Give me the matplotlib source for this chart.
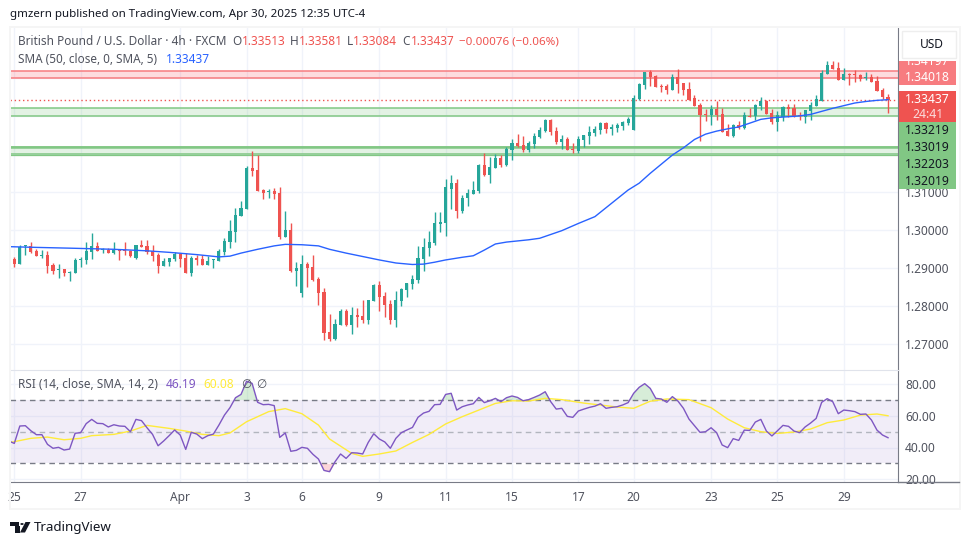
import matplotlib
matplotlib.use('Agg')
import matplotlib.pyplot as plt
from matplotlib.lines import Line2D
from matplotlib.patches import Rectangle, Circle, Polygon

plt.rcParams['font.family'] = ['Noto Sans', 'DejaVu Sans']

# GBP/USD 4h candles
opens = [1.2925,1.2911,1.2959,1.2959,1.2946,1.2932,1.2935,1.2909,1.2896,1.2898,
         1.2888,1.2888,1.2922,1.2922,1.2943,1.2959,1.2948,1.2948,1.2940,1.2948,
         1.2946,1.2946,1.2927,1.2961,1.2959,1.2946,1.2935,1.2906,1.2917,1.2925,
         1.2938,1.2927,1.2888,1.2927,1.2925,1.2909,1.2921,1.2919,1.2943,1.2969,
         1.2995,1.3038,1.3056,1.3164,1.3159,1.3106,1.3101,1.3103,1.3098,1.2982,
         1.3001,1.2893,1.2835,1.2911,1.2903,1.2872,1.2838,1.2732,1.2714,1.2751,
         1.2787,1.2751,1.2777,1.2774,1.2764,1.2814,1.2856,1.2827,1.2806,1.2764,
         1.2814,1.2843,1.2859,1.2869,1.2925,1.2954,1.2967,1.3017,1.3019,1.3109,
         1.3125,1.3051,1.3085,1.3096,1.3103,1.3172,1.3145,1.3164,1.3190,1.3172,
         1.3211,1.3229,1.3224,1.3211,1.3227,1.3245,1.3261,1.3290,1.3261,1.3232,
         1.3240,1.3214,1.3209,1.3238,1.3248,1.3256,1.3264,1.3282,1.3267,1.3269,
         1.3274,1.3282,1.3264,1.3345,1.3382,1.3417,1.3406,1.3380,1.3380,1.3369,
         1.3403,1.3388,1.3372,1.3348,1.3330,1.3306,1.3303,1.3319,1.3306,1.3261,
         1.3248,1.3277,1.3269,1.3301,1.3301,1.3327,1.3340,1.3308,1.3285,1.3298,
         1.3324,1.3322,1.3303,1.3298,1.3314,1.3327,1.3340,1.3411,1.3435,1.3427,
         1.3395,1.3411,1.3411,1.3409,1.3401,1.3403,1.3393,1.3369,1.33513]
highs = [1.2930,1.2961,1.2961,1.2969,1.2951,1.2948,1.2946,1.2914,1.2911,1.2898,
         1.2893,1.2927,1.2930,1.2969,1.2993,1.2969,1.2954,1.2954,1.2969,1.2951,
         1.2969,1.2948,1.2961,1.2975,1.2975,1.2961,1.2940,1.2927,1.2927,1.2943,
         1.2938,1.2940,1.2932,1.2935,1.2935,1.2932,1.2925,1.2951,1.2980,1.3027,
         1.3059,1.3077,1.3169,1.3209,1.3198,1.3109,1.3109,1.3111,1.3114,1.3051,
         1.3019,1.2917,1.2935,1.2917,1.2935,1.2877,1.2848,1.2780,1.2767,1.2793,
         1.2793,1.2798,1.2795,1.2817,1.2817,1.2859,1.2867,1.2838,1.2817,1.2840,
         1.2848,1.2861,1.2882,1.2959,1.2980,1.2998,1.3048,1.3048,1.3135,1.3145,
         1.3135,1.3093,1.3109,1.3130,1.3174,1.3203,1.3193,1.3201,1.3198,1.3219,
         1.3240,1.3253,1.3248,1.3234,1.3256,1.3272,1.3293,1.3293,1.3272,1.3251,
         1.3245,1.3229,1.3248,1.3251,1.3274,1.3274,1.3285,1.3285,1.3280,1.3282,
         1.3287,1.3298,1.3356,1.3388,1.3417,1.3422,1.3409,1.3385,1.3385,1.3411,
         1.3424,1.3388,1.3390,1.3356,1.3335,1.3319,1.3330,1.3340,1.3322,1.3280,
         1.3280,1.3287,1.3311,1.3322,1.3332,1.3351,1.3343,1.3319,1.3314,1.3327,
         1.3332,1.3332,1.3311,1.3317,1.3337,1.3356,1.3422,1.3446,1.3446,1.3443,
         1.3427,1.3414,1.3422,1.3411,1.3417,1.3411,1.3406,1.3374,1.33581]
lows = [1.2903,1.2911,1.2935,1.2940,1.2932,1.2927,1.2888,1.2885,1.2875,1.2880,
        1.2867,1.2888,1.2903,1.2911,1.2925,1.2946,1.2940,1.2940,1.2938,1.2922,
        1.2935,1.2930,1.2925,1.2956,1.2938,1.2919,1.2888,1.2906,1.2906,1.2919,
        1.2903,1.2888,1.2880,1.2909,1.2909,1.2909,1.2901,1.2919,1.2935,1.2954,
        1.2969,1.3038,1.3056,1.3143,1.3103,1.3082,1.3085,1.3082,1.2977,1.2982,
        1.2890,1.2853,1.2825,1.2851,1.2867,1.2803,1.2711,1.2709,1.2711,1.2751,
        1.2748,1.2727,1.2745,1.2756,1.2753,1.2814,1.2788,1.2772,1.2753,1.2745,
        1.2801,1.2825,1.2845,1.2861,1.2893,1.2932,1.2961,1.2995,1.2985,1.3056,
        1.3032,1.3045,1.3064,1.3096,1.3098,1.3143,1.3125,1.3164,1.3167,1.3169,
        1.3185,1.3219,1.3206,1.3206,1.3216,1.3243,1.3259,1.3251,1.3227,1.3214,
        1.3211,1.3203,1.3203,1.3219,1.3227,1.3248,1.3253,1.3256,1.3251,1.3259,
        1.3264,1.3277,1.3264,1.3343,1.3372,1.3380,1.3377,1.3364,1.3359,1.3369,
        1.3361,1.3356,1.3343,1.3327,1.3235,1.3287,1.3277,1.3290,1.3259,1.3248,
        1.3245,1.3267,1.3267,1.3298,1.3290,1.3317,1.3306,1.3280,1.3261,1.3287,
        1.3298,1.3298,1.3290,1.3282,1.3290,1.3327,1.3340,1.3411,1.3424,1.3395,
        1.3395,1.3382,1.3390,1.3393,1.3395,1.3390,1.3367,1.3346,1.33084]
closes = [1.2911,1.2956,1.2960,1.2943,1.2932,1.2935,1.2906,1.2893,1.2898,1.2888,
          1.2890,1.2922,1.2925,1.2946,1.2959,1.2946,1.2951,1.2940,1.2948,1.2946,
          1.2945,1.2932,1.2961,1.2956,1.2943,1.2932,1.2906,1.2919,1.2927,1.2938,
          1.2925,1.2888,1.2927,1.2922,1.2909,1.2919,1.2922,1.2946,1.2972,1.2998,
          1.3040,1.3059,1.3164,1.3156,1.3103,1.3098,1.3103,1.3096,1.2982,1.3001,
          1.2893,1.2901,1.2911,1.2901,1.2869,1.2835,1.2729,1.2714,1.2753,1.2787,
          1.2751,1.2777,1.2772,1.2764,1.2817,1.2856,1.2825,1.2803,1.2764,1.2817,
          1.2845,1.2861,1.2872,1.2927,1.2956,1.2969,1.3019,1.3022,1.3114,1.3125,
          1.3051,1.3085,1.3098,1.3106,1.3172,1.3145,1.3167,1.3190,1.3172,1.3214,
          1.3229,1.3222,1.3211,1.3229,1.3248,1.3264,1.3290,1.3259,1.3232,1.3240,
          1.3211,1.3211,1.3240,1.3251,1.3259,1.3267,1.3282,1.3267,1.3272,1.3277,
          1.3285,1.3293,1.3348,1.3385,1.3417,1.3403,1.3377,1.3377,1.3369,1.3403,
          1.3385,1.3369,1.3343,1.3327,1.3303,1.3303,1.3319,1.3303,1.3259,1.3248,
          1.3277,1.3269,1.3303,1.3298,1.3330,1.3340,1.3306,1.3285,1.3303,1.3324,
          1.3319,1.3301,1.3301,1.3317,1.3330,1.3345,1.3414,1.3435,1.3424,1.3395,
          1.3411,1.3409,1.3409,1.3398,1.3403,1.3390,1.3367,1.3351,1.33437]

# SMA 50, sampled at some candles
sma_idx = [-1,4,10,18,24,28,33,37,39,41,44,47,49,52,55,57,60,63,66,69,72,74,76,78,81,83,85,
           87,89,91,93,95,97,99,102,105,108,111,113,115,117,119,121,123,125,127,129,131,
           133,135,137,140,142,144,146,148,150,152,154,156,158]
sma_val = [1.2957,1.2955,1.2953,1.2950,1.2946,1.2942,1.2936,1.2930,1.2932,1.2940,1.2950,
           1.2959,1.2963,1.2962,1.2959,1.2950,1.2940,1.2931,1.2922,1.2914,1.2910,1.2911,
           1.2916,1.2922,1.2929,1.2933,1.2948,1.2964,1.2969,1.2972,1.2975,1.2979,1.2989,
           1.2999,1.3018,1.3036,1.3071,1.3106,1.3124,1.3150,1.3174,1.3198,1.3217,1.3239,
           1.3253,1.3261,1.3267,1.3272,1.3282,1.3292,1.3296,1.3299,1.3301,1.3305,1.3313,
           1.3321,1.3328,1.3335,1.3339,1.3342,1.33437]

# RSI, first value sits one candle left of the first full candle
rsi_val = [44.1,42.6,53.6,53.8,50.6,48.1,48.1,42.0,39.5,40.1,38.4,39.0,49.0,49.4,55.1,57.8,
           55.3,55.1,53.0,54.4,53.6,53.4,50.0,57.8,57.0,52.5,48.3,41.1,44.1,47.5,51.1,
           47.9,38.8,49.6,48.5,45.6,47.5,48.5,54.2,60.5,65.2,71.5,73.6,81.9,80.6,68.6,
           67.1,67.3,66.5,46.4,49.2,37.6,38.2,40.1,39.5,35.7,32.7,25.5,24.7,31.0,35.9,
           33.1,36.7,36.5,35.9,43.2,48.7,45.4,43.5,39.5,45.8,49.4,51.1,52.7,59.1,61.8,
           62.9,67.1,67.3,73.6,74.3,63.7,65.8,66.9,67.7,71.7,68.4,69.6,71.1,69.0,71.5,
           72.6,71.7,69.6,70.3,71.7,73.2,75.3,69.0,64.3,64.8,59.7,59.1,63.1,64.3,65.4,
           66.2,67.7,64.8,65.4,65.8,66.9,68.4,74.3,78.1,80.4,77.4,71.1,70.7,68.6,72.2,
           69.4,64.8,58.0,53.8,49.6,50.0,52.5,49.4,41.6,39.9,45.6,44.5,51.0,50.8,56.1,
           57.8,50.4,47.3,50.6,54.0,53.4,50.4,49.4,53.0,55.5,58.4,68.6,70.9,69.0,61.4,
           63.7,63.3,62.7,61.0,61.2,57.4,51.0,47.9,46.19]
rsi_idx = list(range(-1, 159))

rsi_ma_idx = [-1,3,6,9,12,14,18,21,24,28,31,34,37,39,42,46,49,52,55,57,61,63,66,69,72,
              75,78,81,84,87,90,93,96,99,103,106,109,112,115,118,122,126,129,132,135,
              138,141,144,147,150,153,156,158]
rsi_ma_val = [43.0,45.8,46.6,44.9,45.8,47.5,48.3,50.4,54.0,52.1,50.4,48.3,47.5,49.2,56.3,
              62.7,64.6,61.4,54.2,45.4,36.3,34.4,35.9,37.8,43.2,48.3,54.9,59.5,63.7,67.9,
              69.6,69.4,71.1,70.3,68.1,66.9,65.6,64.8,69.3,70.7,70.3,65.2,58.0,52.5,50.0,
              48.9,49.8,51.7,55.7,57.4,60.5,61.2,60.08]

# support / resistance zones
red_levels = [1.34197, 1.34018]
green_zone_a = [1.33219, 1.33019]
green_zone_b = [1.32203, 1.32019]
last_price = 1.33437

price_ticks = [1.27, 1.28, 1.29, 1.30, 1.31, 1.32, 1.33, 1.34]
price_labels = ['1.27000', '1.28000', '1.29000', '1.30000', '1.31000', '', '', '']
rsi_ticks = [20, 40, 60, 80]
date_pos = [0, 12, 30, 42, 52, 66, 78, 90, 102, 112, 126, 138, 150]
date_labels = ['25', '27', 'Apr', '3', '6', '9', '11', '15', '17', '20', '23', '25', '29']

GREEN = '#26a69a'
RED = '#ef5350'
GRID = '#f0f3fa'
TXT = '#50535e'
W, H = 970, 545

def fx(x):
    return x / W

def fy(y):
    return 1 - y / H

def price_at(y):
    return 1.31 + (192.3 - y) / 3800

def rsi_at(y):
    return 50 + (431.7 - y) / 1.58

def frect(x0, y0, x1, y1, color, z=5):
    fig.add_artist(Rectangle((fx(x0), fy(y1)), (x1 - x0) / W, (y1 - y0) / H,
                             transform=fig.transFigure, facecolor=color,
                             edgecolor='none', zorder=z))

def ftext(x, y, s, color=TXT, size=8.5, weight='normal', ha='left', z=7):
    fig.text(fx(x), fy(y), s, color=color, fontsize=size, fontweight=weight,
             ha=ha, va='center', zorder=z)

fig = plt.figure(figsize=(W / 100, H / 100), dpi=100, facecolor='white')

left, right, top, mid, bottom = 10, 898, 28, 369.5, 482.3
xmin = (left - 14.3) / 5.53
xmax = (right - 14.3) / 5.53

ax = fig.add_axes([fx(left), fy(mid), (right - left) / W, (mid - top) / H])
ax.set_xlim(xmin, xmax)
ax.set_ylim(price_at(mid), price_at(top))
ax2 = fig.add_axes([fx(left), fy(bottom), (right - left) / W, (bottom - mid) / H])
ax2.set_xlim(xmin, xmax)
ax2.set_ylim(rsi_at(bottom), rsi_at(mid))

# main pane
ax.set_axisbelow(True)
ax.set_xticks(date_pos)
ax.set_yticks(price_ticks)
ax.set_yticklabels(price_labels)
ax.grid(True, color=GRID, lw=1)
ax.yaxis.tick_right()
ax.tick_params(axis='both', length=0, labelbottom=False, labelright=True,
               labelsize=8.6, labelcolor=TXT, pad=5)
for s in ['top', 'left', 'bottom']:
    ax.spines[s].set_visible(False)
ax.spines['right'].set_color('#787b86')

ax.axhspan(red_levels[1], red_levels[0], color='#f7525f', alpha=0.2, lw=0, zorder=1)
for lv in red_levels:
    ax.axhline(lv, color='#f77c80', lw=1.1, zorder=1.5)
for zone in [green_zone_a, green_zone_b]:
    ax.axhspan(zone[1], zone[0], color='#81c784', alpha=0.22, lw=0, zorder=1)
    for lv in zone:
        ax.axhline(lv, color='#81c784', lw=1.1, zorder=1.5)
ax.axhline(green_zone_b[0], color='#81c784', lw=1.8, zorder=1.5)
ax.axhline(1.3197, color='#81c784', lw=0.9, zorder=1.5)
ax.axhline(last_price, color=RED, lw=1, ls=(0, (1, 2)), zorder=1.5)

idx = list(range(len(opens)))
colors = [GREEN if c >= o else RED for o, c in zip(opens, closes)]
body_low = [min(o, c) for o, c in zip(opens, closes)]
body_h = [max(abs(c - o), 0.00025) for o, c in zip(opens, closes)]
ax.vlines(idx, lows, highs, colors=colors, lw=1, zorder=3)
ax.bar(idx, body_h, bottom=body_low, width=0.56, color=colors, lw=0, zorder=3)
ax.plot(sma_idx, sma_val, color='#2962ff', lw=1, zorder=4)

# RSI pane
ax2.set_axisbelow(True)
ax2.set_xticks(date_pos)
ax2.set_xticklabels(date_labels)
ax2.set_yticks(rsi_ticks)
ax2.set_yticklabels(['%.2f' % v for v in rsi_ticks])
ax2.grid(True, color=GRID, lw=1)
ax2.yaxis.tick_right()
ax2.tick_params(axis='both', length=0, labelsize=8.6, labelcolor=TXT, pad=5)
ax2.tick_params(axis='x', pad=6)
ax2.get_xticklabels()[2].set_fontweight('bold')
ax2.spines['top'].set_color('#e0e3eb')
ax2.spines['left'].set_visible(False)
ax2.spines['bottom'].set_color('#787b86')
ax2.spines['right'].set_color('#787b86')

ax2.axhspan(30, 70, color='#7e57c2', alpha=0.1, lw=0, zorder=1)
ax2.axhline(70, color='#787b86', lw=1, ls=(0, (4, 3)), zorder=1.5)
ax2.axhline(50, color='#b2b5be', lw=1, ls=(0, (4, 3)), zorder=1.5)
ax2.axhline(30, color='#787b86', lw=1, ls=(0, (4, 3)), zorder=1.5)
ax2.fill_between(rsi_idx, 70, rsi_val, where=[v >= 70 for v in rsi_val], interpolate=True,
                 color='#4caf50', alpha=0.22, lw=0, zorder=2)
ax2.fill_between(rsi_idx, 30, rsi_val, where=[v <= 30 for v in rsi_val], interpolate=True,
                 color='#f23645', alpha=0.2, lw=0, zorder=2)
ax2.plot(rsi_ma_idx, rsi_ma_val, color='#ffeb3b', lw=1, zorder=3)
ax2.plot(rsi_idx, rsi_val, color='#7e57c2', lw=1, zorder=4)

# outer frame and the bottom line running under the price scale
for box in [(9, 26, 961, 28), (9, 508, 961, 510), (9, 26, 11, 510), (959, 26, 961, 510)]:
    frect(box[0], box[1], box[2], box[3], '#f5f5f5', z=2)
fig.add_artist(Line2D([fx(898), fx(959)], [fy(482.3), fy(482.3)], color='#787b86', lw=1, zorder=3))

# price tags on the scale
frect(899, 61, 956, 85, '#f77c80')
frect(899, 91, 956, 122, RED)
frect(899, 122, 956, 189.5, '#81c784')
ftext(927.5, 61.5, '1.34197', color='white', ha='center', size=8.6)
frect(899, 40, 956, 61, 'white', z=8)
ftext(927.5, 77.5, '1.34018', color='white', ha='center', size=8.8)
ftext(927.5, 99.5, '1.33437', color='white', ha='center', size=8.8)
ftext(927.5, 114, '24:41', color='#fbdcdc', ha='center', size=8.8)
ftext(927.5, 130.7, '1.33219', color='#131722', ha='center', size=8.8)
ftext(927.5, 147.7, '1.33019', color='#131722', ha='center', size=8.8)
ftext(927.5, 164.3, '1.32203', color='#131722', ha='center', size=8.8)
ftext(927.5, 181.7, '1.32019', color='#131722', ha='center', size=8.8)

# USD button
fig.add_artist(Rectangle((fx(902), fy(58)), 54 / W, 27 / H, transform=fig.transFigure,
                         facecolor='white', edgecolor='#eeeeee', lw=1, zorder=9))
ftext(920, 44.5, 'USD', color='#131722', size=8.6, z=10)

# header text
ftext(10, 15, 'gmzern published on TradingView.com, Apr 30, 2025 12:35 UTC-4', color='#131722', size=8.3)
ftext(18, 41.7, 'British Pound / U.S. Dollar · 4h · FXCM')
ftext(232.7, 41.7, 'O')
ftext(241.5, 41.7, '1.33513', color=RED)
ftext(290, 41.7, 'H')
ftext(298.7, 41.7, '1.33581', color=RED)
ftext(346.7, 41.7, 'L')
ftext(353, 41.7, '1.33084', color=RED)
ftext(402.7, 41.7, 'C')
ftext(410.7, 41.7, '1.33437', color=RED)
ftext(459.3, 41.7, '−0.00076 (−0.06%)', color=RED, size=8.35)
ftext(18, 59, 'SMA (50, close, 0, SMA, 5)', size=8.45)
ftext(165.7, 59, '1.33437', color='#2962ff', size=8.6)
ftext(18, 385, 'RSI (14, close, SMA, 14, 2)')
ftext(166, 385, '46.19', color='#7e57c2', size=8.6)
ftext(203, 385, '60.08', color='#ffeb3b', size=8.6)
ftext(241, 385, '∅')
ftext(256, 385, '∅')

# TradingView logo
frect(10, 522, 19.5, 525.5, '#131722')
frect(15, 525.5, 19.5, 532.5, '#131722')
fig.add_artist(Circle((fx(22), fy(524)), 1.7 / W, transform=fig.transFigure, facecolor='#131722',
                      edgecolor='none', zorder=5))
fig.add_artist(Polygon([(fx(20), fy(532.5)), (fx(25.5), fy(522)), (fx(30.5), fy(522)), (fx(25), fy(532.5))],
                       closed=True, transform=fig.transFigure, facecolor='#131722', edgecolor='none', zorder=5))
ftext(34, 527, 'TradingView', color='#131722', size=9.6)

fig.savefig('out.png', dpi=100)
